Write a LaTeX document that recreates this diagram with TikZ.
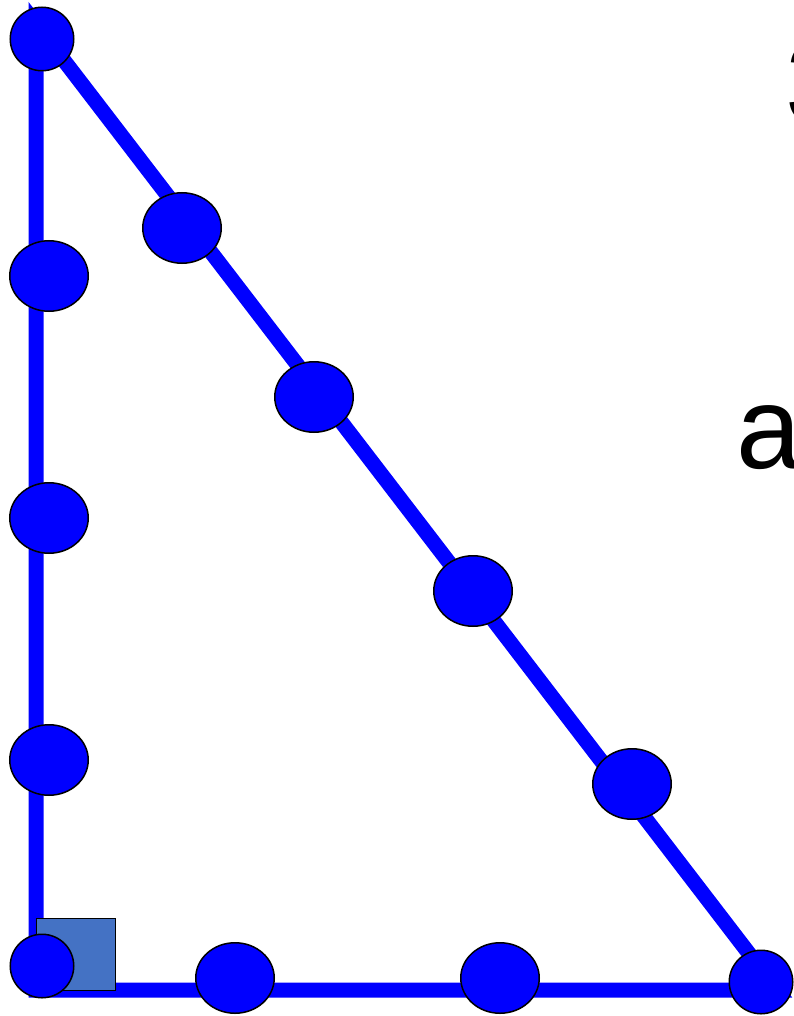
\documentclass[tikz,border=0pt]{standalone}
\usepackage{fontspec}
\setmainfont{Liberation Sans}
\usetikzlibrary{shapes.geometric}
\definecolor{dotblue}{RGB}{0,0,255}
\definecolor{sqblue}{HTML}{4472C4}
\tikzset{
  tri/.style={draw=dotblue, line width=15pt, line join=miter},
  rdot/.style={circle, draw=black, fill=dotblue, line width=1.5pt, minimum size=63.5pt, inner sep=0pt},
  edot/.style={ellipse, draw=black, fill=dotblue, line width=1.5pt, minimum width=78.5pt, minimum height=70.5pt, inner sep=0pt},
  rightsq/.style={rectangle, draw=black, fill=sqblue, line width=1.2pt, minimum width=79pt, minimum height=72pt, inner sep=0pt},
  bigtext/.style={anchor=base west, inner sep=0pt, font=\fontsize{117}{117}\selectfont, text=black}
}
\begin{document}
\begin{tikzpicture}[x=1pt, y=-1pt]
\useasboundingbox (0,0) rectangle (794,1016);
\clip (0,0) rectangle (794,1016);
\coordinate (A) at (36,24);
\coordinate (B) at (36,990);
\coordinate (C) at (777,990);
\draw[tri] (A) -- (B) -- (C) -- cycle;
\node[rightsq] (sq) at (76,954.5) {};
% dots
\node[rdot] (d1) at (42,39) {};
\node[edot] (d2) at (182,228) {};
\node[edot] (d3) at (49,276) {};
\node[edot] (d4) at (314,397) {};
\node[edot] (d5) at (49,518) {};
\node[edot] (d6) at (473,591) {};
\node[edot] (d7) at (49,760) {};
\node[edot] (d8) at (632,784) {};
\node[rdot] (d9) at (42,966) {};
\node[edot] (d10) at (235,978) {};
\node[edot] (d11) at (500,978) {};
\node[rdot] (d12) at (761,982) {};
% texts
\node[bigtext] (t3) at (785,124) {3};
\node[bigtext] (ta) at (736,468) {a};
\end{tikzpicture}
\end{document}
